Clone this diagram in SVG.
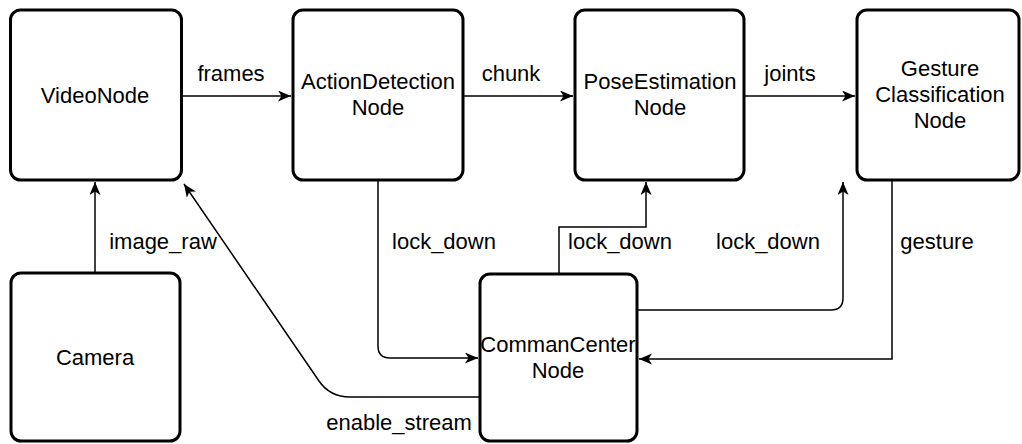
<svg xmlns="http://www.w3.org/2000/svg" width="1022" height="444" viewBox="0 0 1022 444">
<style>
.box{fill:#fff;stroke:#000;stroke-width:3}
.t{font-family:"Liberation Sans",Arial,sans-serif;font-size:22px;fill:#000;text-anchor:middle}
.c{fill:none;stroke:#000;stroke-width:1.5}
</style>
<defs>
<marker id="ah" markerUnits="userSpaceOnUse" markerWidth="14" markerHeight="12" refX="13" refY="5.5" orient="auto">
<path d="M0,0 L13,5.5 L0,11 L3.5,5.5 z" fill="#000"/>
</marker>
</defs>
<rect width="1022" height="444" fill="#fff"/>
<g id="connectors">
<path class="c" d="M182,96 L291,96" marker-end="url(#ah)"/>
<path class="c" d="M464,96 L573,96" marker-end="url(#ah)"/>
<path class="c" d="M745,96 L855,96" marker-end="url(#ah)"/>
<path class="c" d="M95,272 L95,182" marker-end="url(#ah)"/>
<path class="c" d="M378,181 L378,346 Q378,358 390,358 L478,358" marker-end="url(#ah)"/>
<path class="c" d="M559,273 L559,227 L646,227 L646,182" marker-end="url(#ah)"/>
<path class="c" d="M638,310 L831,310 Q843,310 843,298 L843,182" marker-end="url(#ah)"/>
<path class="c" d="M892,181 L892,359 L639,359" marker-end="url(#ah)"/>
<path class="c" d="M479,397 L350,397 Q330,397 319,381 L184,184" marker-end="url(#ah)"/>
<text class="t" x="231" y="81">frames</text>
<text class="t" x="511" y="81">chunk</text>
<text class="t" x="790" y="81">joints</text>
<text class="t" x="163" y="249">image_raw</text>
<text class="t" x="444" y="249">lock_down</text>
<text class="t" x="620" y="249">lock_down</text>
<text class="t" x="768" y="249">lock_down</text>
<text class="t" x="937" y="249">gesture</text>
<text class="t" x="399" y="430">enable_stream</text>
</g>
<g id="VideoNode">
<rect class="box" x="10.5" y="10" width="171" height="170" rx="10"/>
<text class="t" x="95" y="103">VideoNode</text>
</g>
<g id="ActionDetectionNode">
<rect class="box" x="293" y="10" width="170" height="170" rx="10"/>
<text class="t" x="378" y="89">ActionDetection</text>
<text class="t" x="378" y="115">Node</text>
</g>
<g id="PoseEstimationNode">
<rect class="box" x="575" y="10" width="169" height="170" rx="10"/>
<text class="t" x="660" y="89">PoseEstimation</text>
<text class="t" x="660" y="115">Node</text>
</g>
<g id="GestureClassificationNode">
<rect class="box" x="857" y="10" width="162" height="170" rx="10"/>
<text class="t" x="940" y="76">Gesture</text>
<text class="t" x="940" y="102">Classification</text>
<text class="t" x="940" y="128">Node</text>
</g>
<g id="Camera">
<rect class="box" x="11" y="273" width="169" height="168" rx="10"/>
<text class="t" x="95" y="365">Camera</text>
</g>
<g id="CommanCenterNode">
<rect class="box" x="480" y="274" width="157" height="167" rx="10"/>
<text class="t" x="558" y="352">CommanCenter</text>
<text class="t" x="558" y="378">Node</text>
</g>
</svg>
